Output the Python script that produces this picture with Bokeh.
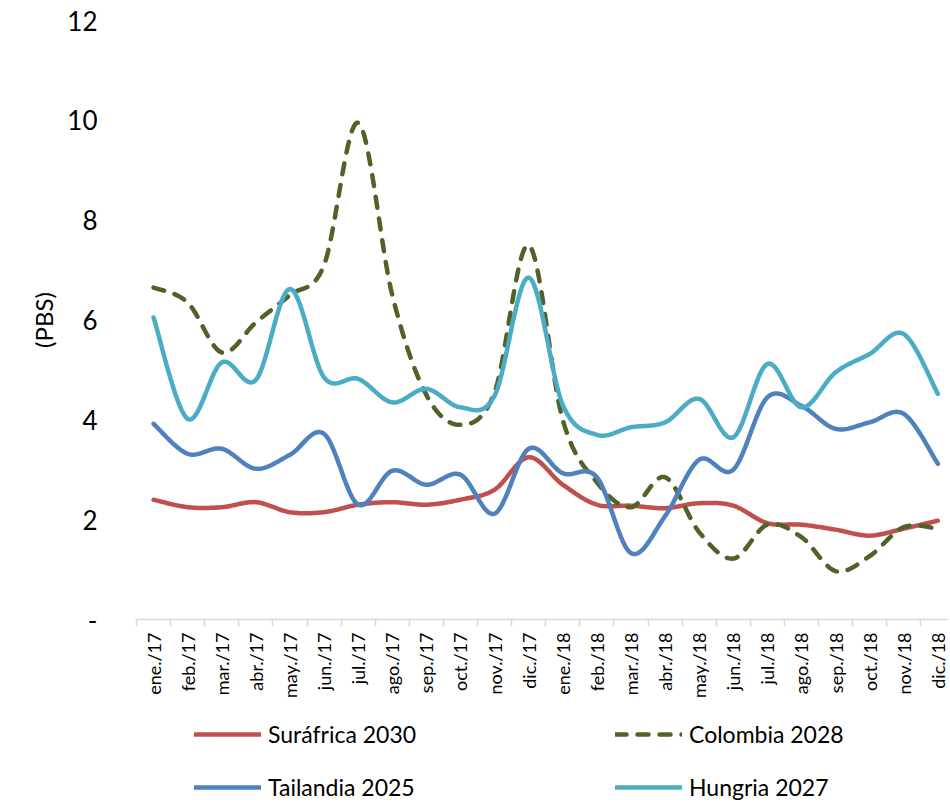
import math
import numpy as np
from bokeh.plotting import figure
from bokeh.layouts import column
from bokeh.models import Range1d, FixedTicker, Legend, LegendItem, ColumnDataSource
from bokeh.embed import file_html
from bokeh.resources import INLINE

months = ["ene./17", "feb./17", "mar./17", "abr./17", "may./17", "jun./17",
          "jul./17", "ago./17", "sep./17", "oct./17", "nov./17", "dic./17",
          "ene./18", "feb./18", "mar./18", "abr./18", "may./18", "jun./18",
          "jul./18", "ago./18", "sep./18", "oct./18", "nov./18", "dic./18"]

surafrica_2030 = [2.40, 2.25, 2.25, 2.35, 2.15, 2.15, 2.30, 2.35, 2.30, 2.40, 2.60, 3.25,
                  2.70, 2.30, 2.28, 2.23, 2.33, 2.28, 1.93, 1.90, 1.80, 1.68, 1.82, 1.98]
colombia_2028 = [6.65, 6.35, 5.35, 5.95, 6.50, 7.10, 9.95, 6.50, 4.50, 3.90, 4.55, 7.50,
                 4.00, 2.75, 2.25, 2.85, 1.75, 1.22, 1.90, 1.65, 0.97, 1.27, 1.85, 1.82]
tailandia_2025 = [3.92, 3.32, 3.42, 3.02, 3.30, 3.72, 2.30, 2.98, 2.70, 2.90, 2.12, 3.42,
                  2.93, 2.85, 1.33, 2.07, 3.20, 3.00, 4.45, 4.28, 3.82, 3.95, 4.12, 3.12]
hungria_2027 = [6.05, 4.02, 5.15, 4.80, 6.62, 4.85, 4.82, 4.35, 4.62, 4.25, 4.48, 6.85,
                4.30, 3.70, 3.85, 3.95, 4.42, 3.65, 5.12, 4.25, 4.95, 5.32, 5.72, 4.52]

y_ticks = [0, 2, 4, 6, 8, 10, 12]
y_tick_labels = ["-", "2", "4", "6", "8", "10", "12"]

FONT = "Lato"


def smooth(xs, ys, n=24):
    """Excel-like smoothed line (Catmull-Rom cubic Bezier) through the data points."""
    P = np.column_stack([xs, ys]).astype(float)
    m = len(P)
    out_x, out_y = [], []
    t = np.linspace(0, 1, n, endpoint=False)
    for i in range(m - 1):
        p0 = P[max(i - 1, 0)]
        p1 = P[i]
        p2 = P[i + 1]
        p3 = P[min(i + 2, m - 1)]
        c1 = p1 + (p2 - p0) / 6.0
        c2 = p2 - (p3 - p1) / 6.0
        b = ((1 - t) ** 3)[:, None] * p1 + (3 * (1 - t) ** 2 * t)[:, None] * c1 + \
            (3 * (1 - t) * t ** 2)[:, None] * c2 + (t ** 3)[:, None] * p2
        out_x.extend(b[:, 0]); out_y.extend(b[:, 1])
    out_x.append(P[-1, 0]); out_y.append(P[-1, 1])
    return out_x, out_y


x_idx = list(range(len(months)))
cat_px = 34.1
W = 948
left = 136
top = 20
frame_h = 599
H = 702
frame_w = W - left

p = figure(width=W, height=H, output_backend="svg", toolbar_location=None,
           x_range=Range1d(-0.5, -0.5 + frame_w / cat_px), y_range=Range1d(0, 12),
           min_border_left=left, min_border_right=0, min_border_top=top,
           min_border_bottom=H - top - frame_h)
p.outline_line_color = None
p.xgrid.visible = False
p.ygrid.visible = False

series = [
    ("Suráfrica 2030", surafrica_2030, "#C0504D", "solid"),
    ("Colombia 2028", colombia_2028, "#4F6228", "11 11"),
    ("Tailandia 2025", tailandia_2025, "#4F81BD", "solid"),
    ("Hungria 2027", hungria_2027, "#4BACC6", "solid"),
]
LW = 4.5
for name, vals, color, dash in series:
    sx, sy = smooth(x_idx, vals)
    src = ColumnDataSource(dict(x=sx, y=sy))
    p.line("x", "y", source=src, line_color=color, line_width=LW,
           line_dash=dash, line_cap="round", line_join="round")

# x axis
xa = p.xaxis[0]
xa.ticker = FixedTicker(ticks=x_idx, minor_ticks=[i - 0.5 for i in range(len(months) + 1)])
xa.major_label_overrides = {i: m for i, m in enumerate(months)}
xa.major_label_orientation = math.pi / 2
xa.major_tick_line_color = None
xa.minor_tick_line_color = "#D9D9D9"
xa.minor_tick_line_width = 1.5
xa.minor_tick_in = 0
xa.minor_tick_out = 7
xa.axis_line_color = "#D9D9D9"
xa.axis_line_width = 1.5
xa.major_label_text_font = FONT
xa.major_label_text_font_size = "18px"
xa.major_label_text_color = "black"
xa.major_label_standoff = 6

# y axis
ya = p.yaxis[0]
ya.ticker = FixedTicker(ticks=y_ticks)
ya.major_label_overrides = {v: s for v, s in zip(y_ticks, y_tick_labels)}
ya.axis_line_color = None
ya.major_tick_line_color = None
ya.minor_tick_line_color = None
ya.major_label_text_font = FONT
ya.major_label_text_font_size = "26px"
ya.major_label_text_color = "black"
ya.major_label_standoff = 33
ya.axis_label = "(PBS)"
ya.axis_label_text_font = FONT
ya.axis_label_text_font_size = "24px"
ya.axis_label_text_font_style = "normal"
ya.axis_label_text_color = "black"
ya.axis_label_standoff = 6

# legend strip below the chart (its frame is aligned with the chart's frame)
H2 = 100
p2 = figure(width=W, height=H2, output_backend="svg", toolbar_location=None,
            x_axis_location=None, y_axis_location=None,
            x_range=Range1d(1000, 1001), y_range=Range1d(1000, 1001),
            min_border_left=0, min_border_right=0, min_border_top=0, min_border_bottom=0)
p2.outline_line_color = None
p2.xgrid.visible = False
p2.ygrid.visible = False
items = []
for name, vals, color, dash in series:
    r = p2.line(x=x_idx, y=vals, line_color=color, line_width=LW, line_dash=dash,
                line_cap="round")
    items.append(LegendItem(label=name, renderers=[r]))

legend = Legend(
    items=items, orientation="horizontal", ncols=2, location=(58, 1),
    glyph_width=67, glyph_height=24, label_height=24, label_width=322,
    label_standoff=7, spacing=25, padding=0, margin=0,
    label_text_font=FONT, label_text_font_size="23px", label_text_color="black",
    border_line_color=None, background_fill_alpha=0,
)
p2.add_layout(legend, "center")

layout = column(p, p2, spacing=0)
open("out.html", "w").write(file_html(layout, INLINE))
